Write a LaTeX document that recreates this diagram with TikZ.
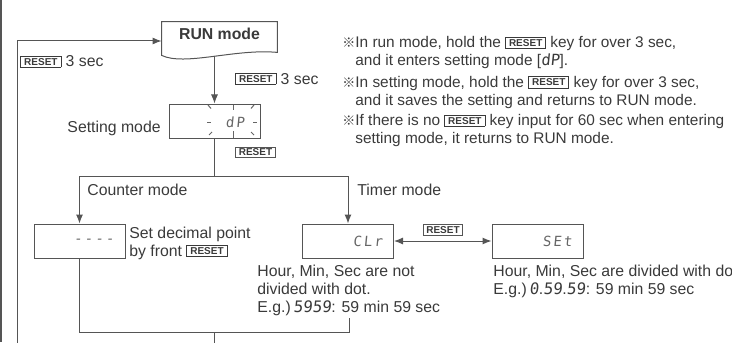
\documentclass[tikz,border=0pt]{standalone}
\usepackage{fontspec}
\setmainfont{Liberation Sans}
\newfontfamily\cjk{Noto Sans CJK JP}
\newfontfamily\lcd[FakeSlant=0.1]{DejaVu Sans Mono}
\newfontfamily\lcdwide[FakeSlant=0.1,LetterSpace=15]{DejaVu Sans Mono}
\usetikzlibrary{arrows.meta,calc}
\definecolor{linegray}{HTML}{555555}
\definecolor{inkgray}{HTML}{3A3A3A}
\definecolor{lcdgray}{HTML}{666666}
\newcommand{\rkey}{{\setlength{\fboxsep}{0.9pt}\setlength{\fboxrule}{0.4pt}\raisebox{0.9pt}{\fbox{\kern0.6pt\fontsize{5}{5}\selectfont\bfseries RESET\kern0.6pt}}}}
\newcommand{\kome}{{\cjk\fontsize{6.5}{9}\selectfont ※}}

\begin{document}
\begin{tikzpicture}[x=0.5pt,y=-0.5pt,
  font=\fontsize{7.9}{9}\selectfont, text=inkgray,
  lcdbox/.style={draw=linegray,line width=0.5pt,minimum width=45.5pt,minimum height=17pt,inner xsep=5.5pt,text width=34.5pt,align=right,font=\lcdwide\fontsize{7}{7}\selectfont,text=lcdgray},
  keybox/.style={draw=linegray,line width=0.4pt,inner xsep=1.5pt,inner ysep=0.9pt,font=\fontsize{5}{5}\selectfont\bfseries},
  line/.style={draw=linegray,line width=0.5pt},
  arrow/.style={line,-{Latex[length=4.5pt,width=3.5pt]}},
  twoway/.style={line,{Latex[length=4.5pt,width=3.5pt]}-{Latex[length=4.5pt,width=3.5pt]}},
  txt/.style={anchor=base west,inner sep=0pt},
  note/.style={txt,font=\fontsize{7.7}{9}\selectfont}
]
\useasboundingbox (0,0) rectangle (732,342);
\draw[line width=1pt,draw=linegray] (1,0) -- (1,342);

% RUN mode and setting mode
\node[anchor=base,inner xsep=0pt,inner ysep=0pt,text height=9pt,text depth=10pt,minimum width=57.5pt,font=\fontsize{7.9}{9}\selectfont\bfseries] (runmode) at (219.5,40) {RUN mode};
\draw[line] (runmode.north west) -- (runmode.north east) -- ([yshift=4pt]runmode.south east)
  .. controls ([xshift=-21pt,yshift=6pt]runmode.south east) and ([xshift=11.5pt,yshift=-3pt]runmode.south west) .. ([yshift=2.5pt]runmode.south west) -- cycle;
\node[draw=linegray,line width=0.5pt,minimum width=45.5pt,minimum height=17pt] (setmode) at (214.5,121) {};
\node[inner sep=0pt,font=\lcdwide\fontsize{7}{7}\selectfont,text=lcdgray] (dp) at (235,122) {dP};
\foreach \a/\b/\c/\d in {207/122/211/122,253/122/257/122,208/105/211/108.5,233/104.5/233/110,254/105/251/108.5,209/135/212/132,233/131/233/137.5,254/135/251/132}
  \draw[line,draw=lcdgray] (\a,\b) -- (\c,\d);
\node[anchor=base east,inner sep=0pt] (setlbl) at (161,132) {Setting mode};
\draw[arrow] ($(setmode.north |- runmode.south)+(0,-4)$) -- (setmode.north);
\node[txt] (runkey) at (235,84) {\rkey\ 3 sec};
\node[keybox] (setkey) at (255.5,152.5) {RESET};

% loop back to RUN mode
\coordinate (loopin) at (17,345);
\draw[arrow] (loopin) |- (runmode.west);
\node[txt] (loopkey) at (20,67) {\rkey\ 3 sec};

% notes
\node[note] (note1a) at (342,48) {\kome In run mode, hold the \rkey\ key for over 3 sec,};
\node[note] (note1b) at (355,66) {and it enters setting mode [{\lcd dP}].};
\node[note] (note2a) at (342,87.5) {\kome In setting mode, hold the \rkey\ key for over 3 sec,};
\node[note] (note2b) at (355,105.5) {and it saves the setting and returns to RUN mode.};
\node[note] (note3a) at (342,126) {\kome If there is no \rkey\ key input for 60 sec when entering};
\node[note] (note3b) at (355,143) {setting mode, it returns to RUN mode.};

% counter and timer branches
\coordinate (split) at (214.5,176);
\node[lcdbox] (cntbox) at (79.5,241) {----};
\node[lcdbox] (clrbox) at (348,241) {CLr};
\node[lcdbox] (setbox) at (537.5,241) {SEt};
\draw[line] (setmode.south) -- (split);
\draw[arrow] (split) -| (cntbox.north);
\draw[arrow] (split) -| (clrbox.north);
\draw[twoway] (clrbox) -- (setbox);
\node[keybox] (swapkey) at (443,230) {RESET};
\node[txt] (cntlbl) at (87,195) {Counter mode};
\node[txt] (tmrlbl) at (357,195) {Timer mode};
\node[txt] (cnta) at (129,238) {Set decimal point};
\node[txt] (cntb) at (129,256) {by front \rkey};
\node[txt] (clra) at (257,276) {Hour, Min, Sec are not};
\node[txt] (clrb) at (257,294) {divided with dot.};
\node[txt] (clrc) at (257,312) {E.g.)\,{\lcd 5959}: 59 min 59 sec};
\node[txt] (seta) at (493,276) {Hour, Min, Sec are divided with dot.};
\node[txt] (setb) at (493,294) {E.g.)\,{\lcd 0}.{\lcd 59}.{\lcd 59}: 59 min 59 sec};

% back together
\coordinate (tback) at (349,318);
\coordinate (join) at (214.5,332);
\coordinate (exit) at (214.5,345);
\draw[line] (cntbox.south) |- (join);
\draw[line] (tback) |- (join);
\draw[line] (join) -- (exit);
\end{tikzpicture}
\end{document}
